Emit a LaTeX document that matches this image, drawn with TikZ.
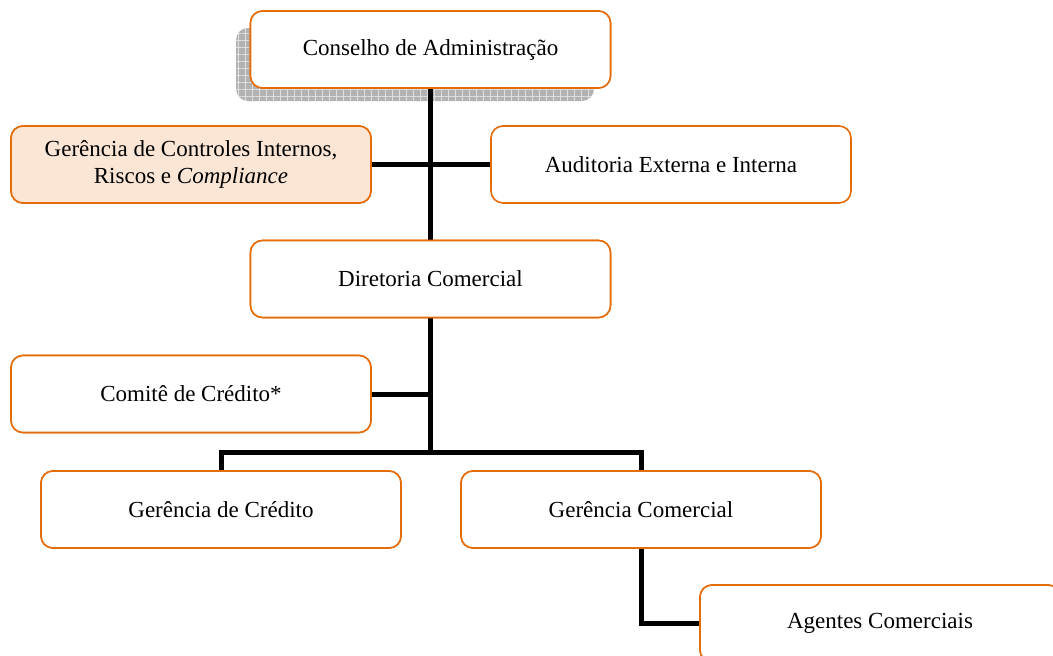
\documentclass[tikz,border=0pt]{standalone}
\usepackage{fontspec}
\setmainfont{Liberation Serif}
\usetikzlibrary{patterns.meta}
\definecolor{boxline}{RGB}{228,108,10}
\definecolor{boxfill}{RGB}{251,230,214}
\begin{document}
\begin{tikzpicture}[x=1pt,y=-1pt,
    unit/.style={draw=boxline,line width=1.6pt,rounded corners=12pt,fill=white,
      minimum width=360pt,minimum height=77pt,align=center,
      font=\fontsize{23}{27}\selectfont,inner sep=0pt},
    link/.style={line width=5pt,black}]
  \clip (0,0) rectangle (1053,656);
  % shadow of the board
  \fill[gray!60,rounded corners=12pt] (236,28) rectangle (594,101);
  \fill[pattern={Hatch[distance=7pt,line width=0.8pt]},pattern color=gray!25,
    rounded corners=12pt] (236,28) rectangle (594,101);
  % connectors
  \coordinate (bus) at (430.5,452);
  \node[unit] (cons) at (430.5,49.5) {};
  \node[unit] (ctrl) at (191,164.5) {};
  \node[unit] (dir) at (430.5,279) {};
  \node[unit] (com) at (191,394) {};
  \node[unit] (gcom) at (641,509.5) {};
  \node[unit] (cred) at (221,509.5) {};
  \node[unit] (agt) at (880,623.5) {};
  \begin{scope}[link]
    \draw (cons.south) -- (bus);
    \draw (ctrl.east) -- (ctrl.east -| cons.south);
    \draw (ctrl.east -| cons.south) -- (671,164.5);
    \draw (com.east) -- (com.east -| dir.south);
    \draw (cred.north) |- (bus) -| (gcom.north);
    \draw (gcom.south) |- (agt.west);
  \end{scope}
  % boxes
  \node[unit] at (cons) {Conselho de Administração};
  \node[unit,fill=boxfill] at (ctrl) {Gerência de Controles Internos,\\Riscos e \textit{Compliance}};
  \node[unit] (aud) at (671,164.5) {Auditoria Externa e Interna};
  \node[unit] at (dir) {Diretoria Comercial};
  \node[unit] at (com) {Comitê de Crédito*};
  \node[unit] at (cred) {Gerência de Crédito};
  \node[unit] at (gcom) {Gerência Comercial};
  \node[unit] at (agt) {Agentes Comerciais};
\end{tikzpicture}
\end{document}
